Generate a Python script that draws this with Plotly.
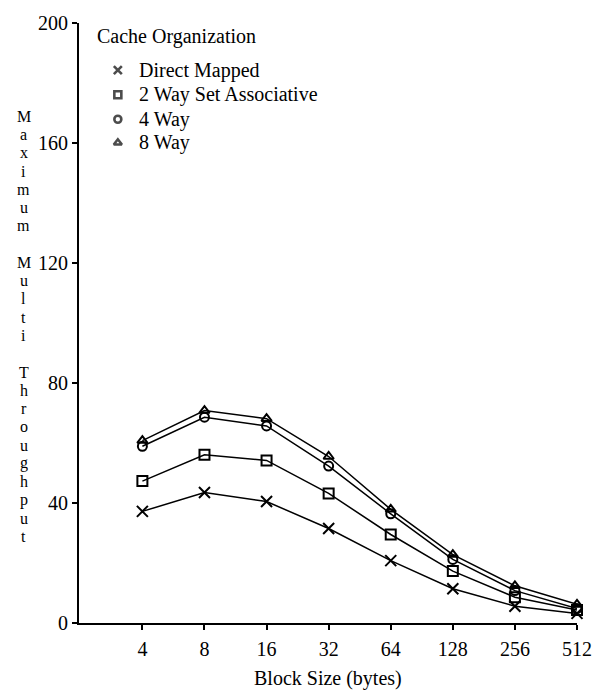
import plotly.graph_objects as go

# Block sizes (bytes) along the x axis
block_sizes = ["4", "8", "16", "32", "64", "128", "256", "512"]

# Maximum multi throughput per cache organization
direct_mapped = [37.2, 43.5, 40.5, 31.5, 20.8, 11.4, 5.6, 3.2]
two_way = [47.3, 56.1, 54.2, 43.2, 29.5, 17.3, 8.6, 4.3]
four_way = [58.9, 68.6, 65.7, 52.3, 36.4, 21.2, 10.8, 4.8]
eight_way = [60.8, 70.8, 68.1, 55.5, 37.9, 22.8, 12.4, 6.2]

series_names = ["Direct Mapped", "2 Way Set Associative", "4 Way", "8 Way"]
series_values = [direct_mapped, two_way, four_way, eight_way]
symbols = ["x-thin-open", "square-open", "circle-open", "triangle-up-open"]
sizes = [11, 10, 9, 9]

y_ticks = [0, 40, 80, 120, 160, 200]

FONT = "Liberation Serif"
W, H = 604, 693
L, R, T, B = 79, 25, 12, 70
plot_w = W - L - R
plot_h = H - T - B


def px_x(px):
    """Horizontal pixel position -> paper fraction."""
    return (px - L) / plot_w


def px_y(py):
    """Vertical pixel position (from top) -> paper fraction."""
    return (H - B - py) / plot_h


fig = go.Figure()

xs = list(range(len(block_sizes)))
for name, vals, sym, sz in zip(series_names, series_values, symbols, sizes):
    fig.add_trace(go.Scatter(
        x=xs, y=vals, name=name, mode="lines+markers",
        line=dict(color="black", width=1.5),
        marker=dict(symbol=sym, size=sz, color="black",
                    line=dict(color="black", width=2)),
        showlegend=False, cliponaxis=False,
    ))

# Legend key: symbols drawn on a pixel-unit overlay axis
legend_rows_px = [60, 85, 110, 134]
legend_sym_x = 118
legend_text_x = 137
fig.add_trace(go.Scatter(
    x=[legend_sym_x] * len(series_names), y=legend_rows_px,
    mode="markers", xaxis="x2", yaxis="y2", showlegend=False,
    marker=dict(symbol=symbols, size=[8, 7, 7, 7],
                color="black", line=dict(color="black", width=2.6)),
    cliponaxis=False, hoverinfo="skip",
))

annotations = []
annotations.append(dict(
    x=px_x(95), y=px_y(26), xref="paper", yref="paper", text="Cache Organization",
    showarrow=False, xanchor="left", yanchor="middle",
    font=dict(family=FONT, size=20, color="black"),
))
for name, ypx in zip(series_names, legend_rows_px):
    annotations.append(dict(
        x=px_x(legend_text_x), y=px_y(ypx), xref="paper", yref="paper", text=name,
        showarrow=False, xanchor="left", yanchor="middle",
        font=dict(family=FONT, size=20, color="black"),
    ))

# Vertical stacked y-axis title, one letter per line
title_lines = list("Maximum") + [""] + list("Multi") + [""] + list("Throughput")
line_step = 18.6
first_line = 107
for i, ch in enumerate(title_lines):
    if not ch:
        continue
    annotations.append(dict(
        x=px_x(23.5), y=px_y(first_line + i * line_step), xref="paper", yref="paper",
        text=ch, showarrow=False, xanchor="center", yanchor="middle",
        font=dict(family=FONT, size=16, color="black"),
    ))

# x-axis title
annotations.append(dict(
    x=px_x(329), y=px_y(680), xref="paper", yref="paper", text="Block Size (bytes)",
    showarrow=False, xanchor="center", yanchor="middle",
    font=dict(family=FONT, size=20, color="black"),
))

fig.update_layout(
    width=W, height=H,
    margin=dict(l=L, r=R, t=T, b=B),
    paper_bgcolor="white", plot_bgcolor="white",
    font=dict(family=FONT, size=20, color="black"),
    showlegend=False,
    xaxis=dict(
        range=[-1.021, 7.0], tickmode="array", tickvals=xs, ticktext=block_sizes,
        showline=True, linecolor="black", linewidth=2,
        ticks="outside", ticklen=5, tickwidth=2, tickcolor="black",
        showgrid=False, zeroline=False, ticklabelstandoff=2,
        tickfont=dict(family=FONT, size=20, color="black"),
    ),
    yaxis=dict(
        range=[0, 200], tickmode="array", tickvals=y_ticks,
        showline=True, linecolor="black", linewidth=2,
        ticks="outside", ticklen=5, tickwidth=2, tickcolor="black",
        showgrid=False, zeroline=False,
        tickfont=dict(family=FONT, size=20, color="black"),
    ),
    xaxis2=dict(range=[L, L + plot_w], overlaying="x", visible=False, fixedrange=True),
    yaxis2=dict(range=[T + plot_h, T], overlaying="y", visible=False, fixedrange=True),
    annotations=annotations,
)

fig.write_html("out.html")
